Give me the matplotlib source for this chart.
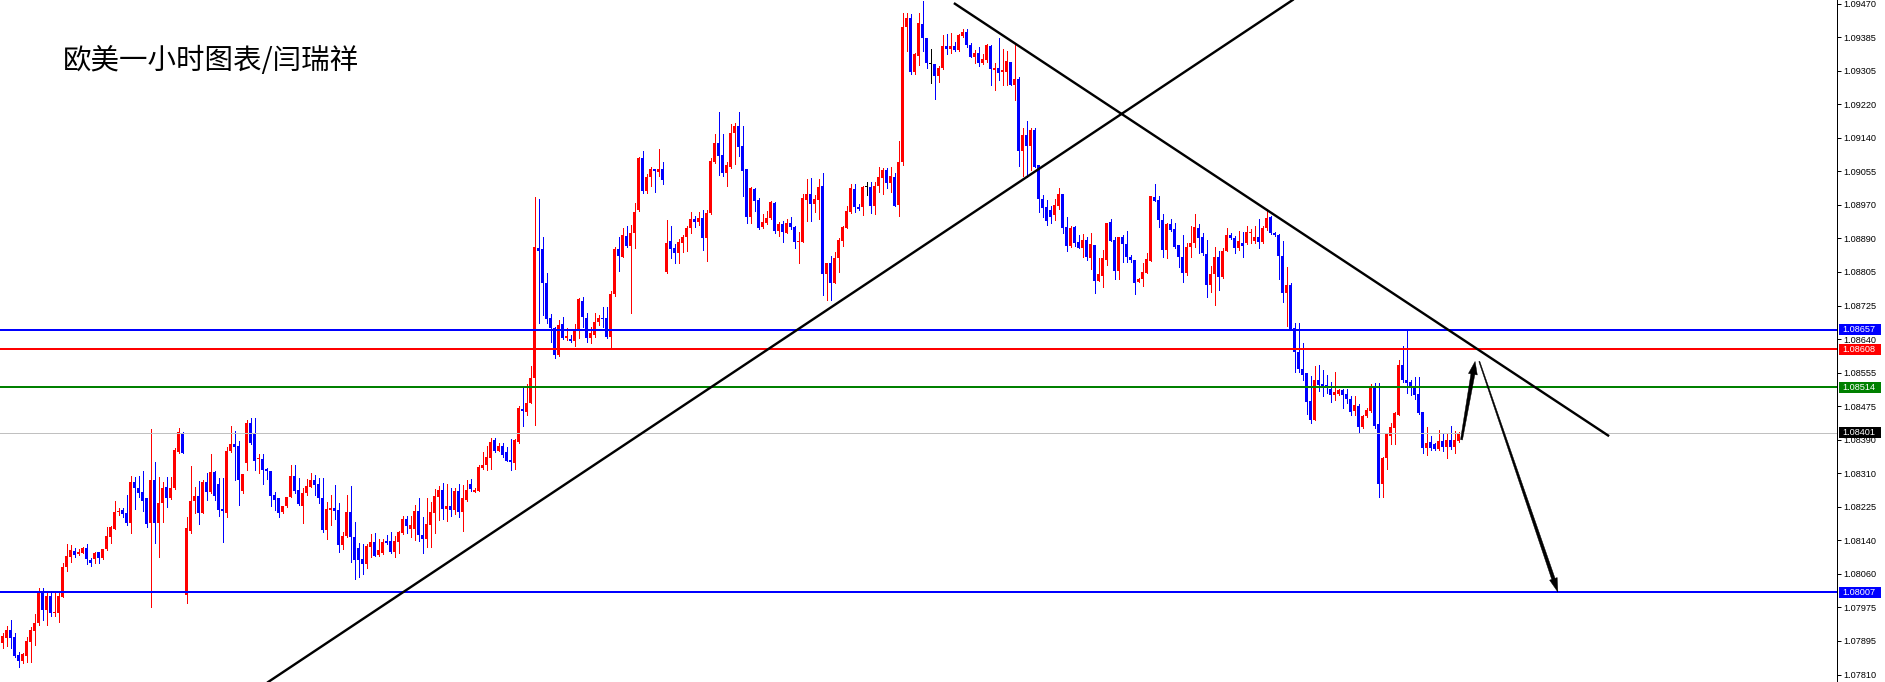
import numpy as np
import matplotlib
matplotlib.use("Agg")
import matplotlib.pyplot as plt
from matplotlib.patches import Rectangle, Polygon
from matplotlib.transforms import IdentityTransform

# ---------------- data (EUR/USD 1H candles) ----------------
opens = [
    1.07882, 1.07894, 1.07913, 1.07895, 1.07851, 1.07836, 1.07850, 1.07884, 1.07911, 1.07931,
    1.08006, 1.07963, 1.07998, 1.07956, 1.07956, 1.07996, 1.08070, 1.08095, 1.08109, 1.08101,
    1.08105, 1.08117, 1.08087, 1.08088, 1.08107, 1.08091, 1.08114, 1.08144, 1.08163, 1.08206,
    1.08210, 1.08202, 1.08179, 1.08280, 1.08265, 1.08256, 1.08239, 1.08179, 1.08284, 1.08179,
    1.08227, 1.08266, 1.08239, 1.08264, 1.08354, 1.08400, 1.08000, 1.08159, 1.08232, 1.08245,
    1.08204, 1.08280, 1.08256, 1.08304, 1.08275, 1.08213, 1.08204, 1.08356, 1.08374, 1.08369,
    1.08258, 1.08326, 1.08425, 1.08400, 1.08336, 1.08336, 1.08311, 1.08307, 1.08247, 1.08240,
    1.08206, 1.08220, 1.08243, 1.08294, 1.08260, 1.08220, 1.08252, 1.08268, 1.08284, 1.08274,
    1.08239, 1.08161, 1.08210, 1.08216, 1.08210, 1.08124, 1.08146, 1.08206, 1.08144, 1.08115,
    1.08088, 1.08077, 1.08119, 1.08130, 1.08099, 1.08103, 1.08133, 1.08133, 1.08106, 1.08132,
    1.08153, 1.08187, 1.08162, 1.08162, 1.08208, 1.08148, 1.08138, 1.08173, 1.08202, 1.08243,
    1.08260, 1.08213, 1.08220, 1.08210, 1.08257, 1.08206, 1.08235, 1.08274, 1.08254, 1.08258,
    1.08315, 1.08322, 1.08340, 1.08384, 1.08357, 1.08369, 1.08353, 1.08334, 1.08326, 1.08379,
    1.08460, 1.08454, 1.08474, 1.08536, 1.08858, 1.08856, 1.08773, 1.08685, 1.08660, 1.08594,
    1.08670, 1.08635, 1.08633, 1.08629, 1.08656, 1.08728, 1.08685, 1.08635, 1.08643, 1.08676,
    1.08685, 1.08685, 1.08638, 1.08745, 1.08856, 1.08837, 1.08889, 1.08864, 1.08897, 1.08953,
    1.09082, 1.09001, 1.09034, 1.09054, 1.09048, 1.09054, 1.08800, 1.08876, 1.08859, 1.08846,
    1.08872, 1.08885, 1.08908, 1.08930, 1.08924, 1.08934, 1.08884, 1.08945, 1.09072, 1.09119,
    1.09089, 1.09045, 1.09060, 1.09143, 1.09161, 1.09110, 1.09054, 1.08936, 1.09004, 1.08978,
    1.08911, 1.08921, 1.08932, 1.08971, 1.08902, 1.08918, 1.08897, 1.08920, 1.08910, 1.08874,
    1.08874, 1.08978, 1.08992, 1.08968, 1.08978, 1.09012, 1.08794, 1.08821, 1.08771, 1.08833,
    1.08877, 1.08908, 1.08947, 1.09004, 1.08961, 1.08960, 1.09009, 1.09009, 1.08963, 1.09012,
    1.09031, 1.09052, 1.09019, 1.09035, 1.08965, 1.09072, 1.09405, 1.09427, 1.09295, 1.09335,
    1.09412, 1.09378, 1.09314, 1.09313, 1.09285, 1.09304, 1.09359, 1.09351, 1.09359, 1.09349,
    1.09384, 1.09393, 1.09361, 1.09331, 1.09341, 1.09317, 1.09324, 1.09359, 1.09299, 1.09304,
    1.09295, 1.09295, 1.09320, 1.09262, 1.09277, 1.09100, 1.09138, 1.09110, 1.09151, 1.09064,
    1.08981, 1.08960, 1.08953, 1.08940, 1.08963, 1.08992, 1.08910, 1.08864, 1.08910, 1.08874,
    1.08858, 1.08879, 1.08833, 1.08866, 1.08778, 1.08790, 1.08829, 1.08924, 1.08879, 1.08803,
    1.08887, 1.08869, 1.08837, 1.08829, 1.08775, 1.08781, 1.08798, 1.08827, 1.08986, 1.08978,
    1.08928, 1.08854, 1.08918, 1.08906, 1.08866, 1.08837, 1.08796, 1.08860, 1.08870, 1.08908,
    1.08885, 1.08844, 1.08767, 1.08794, 1.08837, 1.08786, 1.08852, 1.08891, 1.08884, 1.08859,
    1.08870, 1.08870, 1.08895, 1.08877, 1.08887, 1.08874, 1.08908, 1.08935, 1.08895, 1.08891,
    1.08839, 1.08748, 1.08767, 1.08660, 1.08602, 1.08559, 1.08550, 1.08480, 1.08433, 1.08532,
    1.08522, 1.08520, 1.08510, 1.08495, 1.08497, 1.08507, 1.08497, 1.08484, 1.08455, 1.08468,
    1.08416, 1.08443, 1.08456, 1.08512, 1.08423, 1.08275, 1.08338, 1.08393, 1.08412, 1.08445,
    1.08569, 1.08532, 1.08528, 1.08514, 1.08497, 1.08452, 1.08363, 1.08379, 1.08374, 1.08361,
    1.08382, 1.08366, 1.08384, 1.08367, 1.08382,
]

closes = [
    1.07898, 1.07913, 1.07894, 1.07850, 1.07836, 1.07854, 1.07886, 1.07913, 1.07931, 1.08004,
    1.07963, 1.07998, 1.07956, 1.07958, 1.07998, 1.08070, 1.08096, 1.08111, 1.08099, 1.08106,
    1.08117, 1.08088, 1.08080, 1.08105, 1.08091, 1.08114, 1.08146, 1.08169, 1.08206, 1.08208,
    1.08200, 1.08179, 1.08280, 1.08264, 1.08253, 1.08233, 1.08176, 1.08284, 1.08179, 1.08227,
    1.08264, 1.08241, 1.08264, 1.08359, 1.08403, 1.08352, 1.08165, 1.08232, 1.08245, 1.08204,
    1.08280, 1.08256, 1.08304, 1.08245, 1.08210, 1.08208, 1.08356, 1.08374, 1.08367, 1.08284,
    1.08299, 1.08425, 1.08375, 1.08332, 1.08338, 1.08309, 1.08307, 1.08245, 1.08235, 1.08204,
    1.08220, 1.08243, 1.08294, 1.08257, 1.08224, 1.08253, 1.08270, 1.08284, 1.08272, 1.08239,
    1.08161, 1.08212, 1.08216, 1.08208, 1.08124, 1.08146, 1.08206, 1.08144, 1.08086, 1.08086,
    1.08077, 1.08122, 1.08132, 1.08097, 1.08111, 1.08132, 1.08128, 1.08106, 1.08133, 1.08156,
    1.08187, 1.08171, 1.08172, 1.08208, 1.08148, 1.08138, 1.08176, 1.08205, 1.08245, 1.08260,
    1.08213, 1.08220, 1.08210, 1.08257, 1.08206, 1.08239, 1.08260, 1.08261, 1.08260, 1.08316,
    1.08322, 1.08341, 1.08379, 1.08357, 1.08369, 1.08346, 1.08332, 1.08328, 1.08384, 1.08462,
    1.08455, 1.08474, 1.08536, 1.08862, 1.08852, 1.08773, 1.08682, 1.08660, 1.08594, 1.08668,
    1.08635, 1.08642, 1.08629, 1.08656, 1.08732, 1.08687, 1.08635, 1.08649, 1.08675, 1.08686,
    1.08683, 1.08638, 1.08745, 1.08856, 1.08839, 1.08891, 1.08864, 1.08897, 1.08947, 1.09082,
    1.09001, 1.09034, 1.09054, 1.09050, 1.09054, 1.09027, 1.08870, 1.08856, 1.08846, 1.08874,
    1.08887, 1.08908, 1.08931, 1.08924, 1.08932, 1.08884, 1.08945, 1.09074, 1.09119, 1.09087,
    1.09045, 1.09064, 1.09144, 1.09161, 1.09108, 1.09050, 1.08936, 1.09007, 1.08975, 1.08908,
    1.08924, 1.08932, 1.08973, 1.08902, 1.08918, 1.08899, 1.08920, 1.08911, 1.08874, 1.08876,
    1.08982, 1.08992, 1.08968, 1.08981, 1.09009, 1.08794, 1.08821, 1.08773, 1.08833, 1.08879,
    1.08910, 1.08951, 1.09007, 1.08960, 1.08955, 1.09009, 1.09009, 1.08963, 1.09012, 1.09034,
    1.09052, 1.09019, 1.09037, 1.08963, 1.09071, 1.09407, 1.09427, 1.09295, 1.09339, 1.09415,
    1.09378, 1.09316, 1.09314, 1.09285, 1.09304, 1.09359, 1.09351, 1.09359, 1.09349, 1.09386,
    1.09393, 1.09360, 1.09332, 1.09341, 1.09317, 1.09326, 1.09361, 1.09301, 1.09304, 1.09293,
    1.09299, 1.09322, 1.09262, 1.09277, 1.09100, 1.09138, 1.09111, 1.09151, 1.09058, 1.08981,
    1.08958, 1.08926, 1.08936, 1.08965, 1.08992, 1.08909, 1.08864, 1.08909, 1.08872, 1.08858,
    1.08879, 1.08837, 1.08869, 1.08778, 1.08794, 1.08833, 1.08921, 1.08877, 1.08803, 1.08887,
    1.08869, 1.08837, 1.08829, 1.08773, 1.08782, 1.08800, 1.08831, 1.08988, 1.08975, 1.08928,
    1.08854, 1.08918, 1.08903, 1.08860, 1.08836, 1.08796, 1.08862, 1.08870, 1.08910, 1.08883,
    1.08846, 1.08767, 1.08794, 1.08837, 1.08786, 1.08852, 1.08891, 1.08883, 1.08859, 1.08876,
    1.08864, 1.08898, 1.08899, 1.08885, 1.08874, 1.08908, 1.08932, 1.08895, 1.08891, 1.08838,
    1.08748, 1.08767, 1.08656, 1.08602, 1.08559, 1.08544, 1.08478, 1.08433, 1.08532, 1.08520,
    1.08517, 1.08515, 1.08495, 1.08503, 1.08507, 1.08496, 1.08484, 1.08454, 1.08470, 1.08416,
    1.08443, 1.08458, 1.08512, 1.08418, 1.08275, 1.08338, 1.08398, 1.08416, 1.08450, 1.08569,
    1.08532, 1.08525, 1.08514, 1.08495, 1.08450, 1.08363, 1.08377, 1.08363, 1.08361, 1.08382,
    1.08367, 1.08384, 1.08367, 1.08384, 1.08401,
]

highs = [
    1.07905, 1.07923, 1.07938, 1.07905, 1.07859, 1.07857, 1.07895, 1.07921, 1.07952, 1.08018,
    1.08016, 1.08008, 1.08007, 1.08010, 1.08004, 1.08080, 1.08125, 1.08124, 1.08117, 1.08113,
    1.08119, 1.08126, 1.08091, 1.08107, 1.08107, 1.08114, 1.08169, 1.08171, 1.08232, 1.08216,
    1.08214, 1.08247, 1.08294, 1.08293, 1.08294, 1.08307, 1.08240, 1.08411, 1.08330, 1.08293,
    1.08280, 1.08293, 1.08293, 1.08363, 1.08412, 1.08403, 1.08192, 1.08319, 1.08266, 1.08281,
    1.08284, 1.08301, 1.08349, 1.08307, 1.08289, 1.08289, 1.08367, 1.08418, 1.08406, 1.08382,
    1.08299, 1.08433, 1.08437, 1.08437, 1.08349, 1.08349, 1.08314, 1.08307, 1.08256, 1.08240,
    1.08220, 1.08243, 1.08322, 1.08322, 1.08289, 1.08264, 1.08286, 1.08301, 1.08297, 1.08289,
    1.08289, 1.08231, 1.08247, 1.08272, 1.08228, 1.08156, 1.08247, 1.08270, 1.08181, 1.08128,
    1.08126, 1.08126, 1.08150, 1.08153, 1.08138, 1.08138, 1.08148, 1.08156, 1.08146, 1.08159,
    1.08196, 1.08195, 1.08195, 1.08223, 1.08239, 1.08194, 1.08239, 1.08231, 1.08261, 1.08270,
    1.08276, 1.08275, 1.08264, 1.08265, 1.08275, 1.08272, 1.08284, 1.08286, 1.08264, 1.08322,
    1.08354, 1.08369, 1.08388, 1.08388, 1.08377, 1.08375, 1.08367, 1.08385, 1.08385, 1.08468,
    1.08517, 1.08522, 1.08567, 1.08984, 1.08979, 1.08887, 1.08798, 1.08695, 1.08664, 1.08681,
    1.08689, 1.08660, 1.08643, 1.08670, 1.08734, 1.08737, 1.08699, 1.08664, 1.08699, 1.08693,
    1.08712, 1.08712, 1.08752, 1.08862, 1.08887, 1.08908, 1.08913, 1.08916, 1.08969, 1.09085,
    1.09099, 1.09042, 1.09058, 1.09054, 1.09103, 1.09072, 1.08928, 1.08913, 1.08869, 1.08881,
    1.08891, 1.08913, 1.08947, 1.08938, 1.08949, 1.08953, 1.08953, 1.09081, 1.09140, 1.09195,
    1.09141, 1.09072, 1.09165, 1.09169, 1.09195, 1.09161, 1.09054, 1.09009, 1.09007, 1.08982,
    1.08943, 1.08951, 1.08975, 1.08973, 1.08924, 1.08926, 1.08931, 1.08935, 1.08914, 1.08899,
    1.08992, 1.09030, 1.09031, 1.08990, 1.09030, 1.09045, 1.08821, 1.08839, 1.08848, 1.08883,
    1.08913, 1.08963, 1.09017, 1.09017, 1.08968, 1.09011, 1.09021, 1.09021, 1.09021, 1.09059,
    1.09056, 1.09056, 1.09059, 1.09044, 1.09124, 1.09440, 1.09440, 1.09438, 1.09341, 1.09440,
    1.09470, 1.09378, 1.09351, 1.09313, 1.09309, 1.09386, 1.09388, 1.09390, 1.09369, 1.09388,
    1.09400, 1.09400, 1.09365, 1.09349, 1.09357, 1.09338, 1.09363, 1.09361, 1.09316, 1.09378,
    1.09351, 1.09347, 1.09320, 1.09361, 1.09283, 1.09157, 1.09173, 1.09155, 1.09155, 1.09064,
    1.08990, 1.08978, 1.08963, 1.08980, 1.09007, 1.08992, 1.08935, 1.08913, 1.08913, 1.08891,
    1.08893, 1.08885, 1.08895, 1.08866, 1.08833, 1.08854, 1.08921, 1.08931, 1.08885, 1.08887,
    1.08891, 1.08901, 1.08841, 1.08829, 1.08784, 1.08822, 1.08847, 1.08988, 1.09017, 1.08988,
    1.08943, 1.08921, 1.08930, 1.08920, 1.08866, 1.08891, 1.08870, 1.08913, 1.08943, 1.08918,
    1.08897, 1.08879, 1.08814, 1.08862, 1.08851, 1.08858, 1.08909, 1.08897, 1.08888, 1.08901,
    1.08899, 1.08913, 1.08905, 1.08913, 1.08930, 1.08913, 1.08955, 1.08938, 1.08899, 1.08893,
    1.08876, 1.08812, 1.08773, 1.08672, 1.08672, 1.08623, 1.08550, 1.08542, 1.08567, 1.08569,
    1.08557, 1.08544, 1.08528, 1.08551, 1.08509, 1.08509, 1.08509, 1.08492, 1.08492, 1.08473,
    1.08445, 1.08462, 1.08522, 1.08524, 1.08525, 1.08341, 1.08402, 1.08426, 1.08454, 1.08582,
    1.08616, 1.08656, 1.08532, 1.08539, 1.08539, 1.08452, 1.08416, 1.08393, 1.08377, 1.08408,
    1.08402, 1.08400, 1.08418, 1.08406, 1.08404,
]

lows = [
    1.07868, 1.07874, 1.07869, 1.07847, 1.07821, 1.07832, 1.07835, 1.07835, 1.07876, 1.07926,
    1.07938, 1.07926, 1.07948, 1.07948, 1.07934, 1.07996, 1.08058, 1.08082, 1.08093, 1.08099,
    1.08103, 1.08077, 1.08072, 1.08078, 1.08078, 1.08088, 1.08111, 1.08129, 1.08163, 1.08198,
    1.08194, 1.08173, 1.08153, 1.08213, 1.08242, 1.08208, 1.08167, 1.07971, 1.08129, 1.08095,
    1.08181, 1.08218, 1.08237, 1.08261, 1.08351, 1.08351, 1.07979, 1.08154, 1.08202, 1.08176,
    1.08202, 1.08235, 1.08253, 1.08235, 1.08195, 1.08132, 1.08194, 1.08354, 1.08284, 1.08223,
    1.08253, 1.08309, 1.08374, 1.08309, 1.08301, 1.08275, 1.08286, 1.08220, 1.08210, 1.08192,
    1.08202, 1.08218, 1.08243, 1.08252, 1.08223, 1.08179, 1.08247, 1.08266, 1.08247, 1.08227,
    1.08156, 1.08138, 1.08173, 1.08187, 1.08107, 1.08113, 1.08144, 1.08082, 1.08039, 1.08045,
    1.08052, 1.08067, 1.08095, 1.08096, 1.08097, 1.08101, 1.08126, 1.08103, 1.08095, 1.08103,
    1.08151, 1.08154, 1.08144, 1.08136, 1.08134, 1.08105, 1.08119, 1.08119, 1.08153, 1.08185,
    1.08187, 1.08184, 1.08195, 1.08200, 1.08194, 1.08159, 1.08233, 1.08258, 1.08254, 1.08258,
    1.08311, 1.08309, 1.08311, 1.08354, 1.08357, 1.08342, 1.08331, 1.08309, 1.08311, 1.08377,
    1.08419, 1.08445, 1.08474, 1.08421, 1.08672, 1.08693, 1.08674, 1.08627, 1.08586, 1.08591,
    1.08633, 1.08631, 1.08627, 1.08617, 1.08635, 1.08662, 1.08627, 1.08623, 1.08639, 1.08668,
    1.08662, 1.08635, 1.08608, 1.08740, 1.08803, 1.08836, 1.08860, 1.08697, 1.08858, 1.08951,
    1.08994, 1.08994, 1.09011, 1.08998, 1.09037, 1.09017, 1.08798, 1.08835, 1.08822, 1.08822,
    1.08850, 1.08851, 1.08895, 1.08911, 1.08916, 1.08854, 1.08827, 1.08943, 1.09070, 1.09040,
    1.09037, 1.09011, 1.09056, 1.09067, 1.09087, 1.08988, 1.08921, 1.08921, 1.08951, 1.08905,
    1.08908, 1.08918, 1.08930, 1.08897, 1.08888, 1.08874, 1.08895, 1.08906, 1.08858, 1.08822,
    1.08874, 1.08926, 1.08926, 1.08947, 1.08931, 1.08742, 1.08730, 1.08730, 1.08771, 1.08800,
    1.08864, 1.08908, 1.08945, 1.08947, 1.08953, 1.08940, 1.08990, 1.08946, 1.08943, 1.08998,
    1.08992, 1.09008, 1.08998, 1.08963, 1.08938, 1.09064, 1.09347, 1.09289, 1.09289, 1.09312,
    1.09346, 1.09305, 1.09266, 1.09227, 1.09270, 1.09302, 1.09338, 1.09341, 1.09347, 1.09347,
    1.09382, 1.09357, 1.09331, 1.09316, 1.09310, 1.09314, 1.09320, 1.09262, 1.09250, 1.09275,
    1.09262, 1.09262, 1.09262, 1.09225, 1.09062, 1.09037, 1.09035, 1.09052, 1.09058, 1.08949,
    1.08935, 1.08916, 1.08921, 1.08928, 1.08955, 1.08897, 1.08851, 1.08862, 1.08864, 1.08858,
    1.08836, 1.08829, 1.08806, 1.08748, 1.08777, 1.08763, 1.08817, 1.08877, 1.08781, 1.08781,
    1.08825, 1.08825, 1.08825, 1.08744, 1.08775, 1.08765, 1.08796, 1.08827, 1.08975, 1.08910,
    1.08836, 1.08835, 1.08902, 1.08858, 1.08812, 1.08775, 1.08792, 1.08837, 1.08862, 1.08846,
    1.08841, 1.08738, 1.08751, 1.08718, 1.08755, 1.08784, 1.08852, 1.08881, 1.08846, 1.08855,
    1.08837, 1.08869, 1.08872, 1.08872, 1.08859, 1.08872, 1.08903, 1.08893, 1.08888, 1.08781,
    1.08726, 1.08666, 1.08656, 1.08553, 1.08553, 1.08532, 1.08447, 1.08426, 1.08433, 1.08505,
    1.08492, 1.08499, 1.08478, 1.08482, 1.08495, 1.08462, 1.08474, 1.08445, 1.08445, 1.08404,
    1.08412, 1.08440, 1.08454, 1.08412, 1.08242, 1.08243, 1.08311, 1.08374, 1.08374, 1.08445,
    1.08528, 1.08499, 1.08495, 1.08484, 1.08448, 1.08352, 1.08346, 1.08359, 1.08359, 1.08359,
    1.08357, 1.08338, 1.08360, 1.08351, 1.08379,
]

axis_labels = ["1.09470", "1.09385", "1.09305", "1.09220", "1.09140", "1.09055", "1.08970",
               "1.08890", "1.08805", "1.08725", "1.08640", "1.08555", "1.08475", "1.08390",
               "1.08310", "1.08225", "1.08140", "1.08060", "1.07975", "1.07895", "1.07810"]

level_prices = [1.08657, 1.08608, 1.08514, 1.08401, 1.08007]
level_labels = ["1.08657", "1.08608", "1.08514", "1.08401", "1.08007"]
level_box_colors = ["#0000FF", "#FF0000", "#008000", "#000000", "#0000FF"]
level_line_colors = ["#0000FF", "#FF0000", "#008000", "#C0C0C0", "#0000FF"]

# trendlines / arrows anchor points (candle index, price)
uptrend_pts = [(66.45, 1.07785), (322.55, 1.09473)]
downtrend_pts = [(237.8, 1.09465), (401.6, 1.08393)]
arrow_up_pts = [(364.7, 1.08384), (368.1, 1.08578)]
arrow_down_pts = [(369.15, 1.08578), (388.8, 1.08007)]

title_text = "欧美一小时图表/闫瑞祥"

# ---------------- figure ----------------
W, H = 1885, 682
PX = 72.0 / 100.0  # 1 pixel in points
PPU = 40400.0       # pixels per price unit

fig = plt.figure(figsize=(W / 100, H / 100), dpi=100)
fig.patch.set_facecolor("white")
AXW = 1837
ax = fig.add_axes([0, 0, AXW / W, 1])
ax.set_facecolor("white")

o = np.array(opens); c = np.array(closes); h = np.array(highs); l = np.array(lows)
idx = np.arange(len(o))
cols = np.where(c > o, "#FF0000", np.where(c < o, "#0000FF", "#000000"))

lo_w = np.minimum(l, np.minimum(o, c))
hi_w = np.maximum(h, np.maximum(o, c))
ax.vlines(idx, lo_w, hi_w, colors=cols, linewidth=PX, antialiased=False, zorder=3)
body_lo = np.minimum(o, c)
body_h = np.maximum(np.abs(c - o), 1.0 / PPU)
ax.bar(idx, body_h, bottom=body_lo, width=0.8, color=cols, linewidth=0,
       antialiased=False, zorder=4)

# horizontal levels
for p, lc in zip(level_prices, level_line_colors):
    ax.axhline(p, color=lc, linewidth=(1 if lc == "#C0C0C0" else 2) * PX, zorder=5)

# trendlines
ax.axline(uptrend_pts[0], uptrend_pts[1], color="black", linewidth=2.4 * PX, zorder=6)
ax.plot([downtrend_pts[0][0], downtrend_pts[1][0]], [downtrend_pts[0][1], downtrend_pts[1][1]],
        color="black", linewidth=2.4 * PX, zorder=6, solid_capstyle="butt")

ax.set_xlim(-0.675, (AXW - 2.7) / 4.0)
ytop = 1.094726
ybot = ytop - H / PPU
ax.set_ylim(ybot, ytop)

# axis styling
for s in ["left", "top", "bottom"]:
    ax.spines[s].set_visible(False)
ax.spines["right"].set_color("black")
ax.spines["right"].set_linewidth(PX)
ax.set_xticks([])
ax.yaxis.tick_right()
tick_pos = np.linspace(ytop - 3.6 / PPU, ytop - 674.5 / PPU, len(axis_labels))
ax.set_yticks(tick_pos)
ax.set_yticklabels(axis_labels, fontsize=6.6, family="Liberation Sans")
ax.tick_params(axis="y", length=4 * PX, width=PX, pad=2 * PX, colors="black")

# level label boxes
trans = ax.get_yaxis_transform()
for p, lab, bc in zip(level_prices, level_labels, level_box_colors):
    ax.add_patch(Rectangle((1839 / AXW, p - 5.5 / PPU), 42 / AXW, 11 / PPU, transform=trans,
                           facecolor=bc, edgecolor="none", clip_on=False, zorder=10))
    ax.text(1842.5 / AXW, p, lab, transform=trans, color="white", fontsize=6.6,
            family="Liberation Sans", va="center", ha="left", clip_on=False, zorder=11)

# tapered arrows drawn in pixel space
fig.canvas.draw()


def tapered_arrow(p0, p1, w0, w1, head_len, head_w):
    P0 = ax.transData.transform(p0)
    P1 = ax.transData.transform(p1)
    d = P1 - P0
    d = d / np.hypot(*d)
    n = np.array([-d[1], d[0]])
    Pb = P1 - d * head_len
    pts = [P0 + n * w0 / 2, Pb + n * w1 / 2, Pb + n * head_w / 2, P1,
           Pb - n * head_w / 2, Pb - n * w1 / 2, P0 - n * w0 / 2]
    fig.patches.append(Polygon(pts, closed=True, transform=IdentityTransform(),
                               facecolor="black", edgecolor="black", linewidth=0.3,
                               zorder=8, figure=fig))


tapered_arrow(arrow_up_pts[0], arrow_up_pts[1], 2.0, 4.0, 13, 9)
tapered_arrow(arrow_down_pts[0], arrow_down_pts[1], 1.0, 3.5, 14, 8)

fig.text(63 / W, 1 - 60.5 / H, title_text, fontsize=20.5,
         family=["Noto Sans CJK SC", "DejaVu Sans"], va="center", ha="left", color="black")

fig.savefig("out.png", dpi=100, facecolor="white")
